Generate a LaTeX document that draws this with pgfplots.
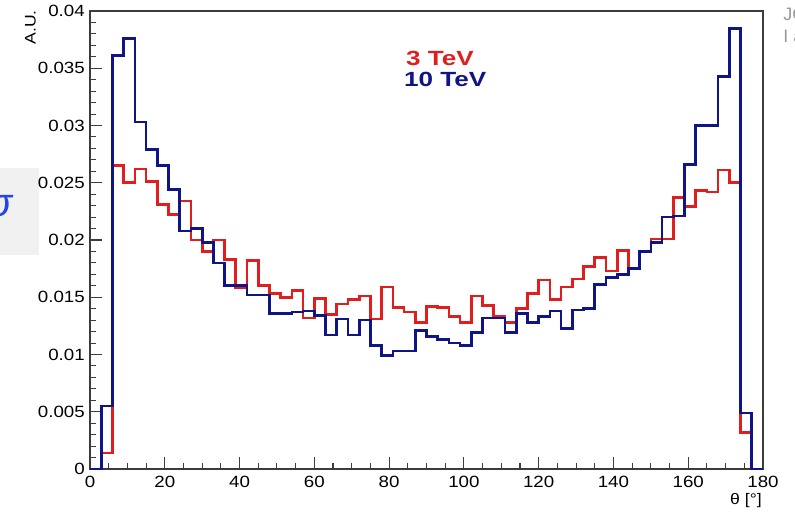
\documentclass[border=0pt]{standalone}
\usepackage{pgfplots}
\pgfplotsset{compat=1.18}
\usepackage{fontspec}
\setmainfont{Liberation Sans}
\newfontfamily\tickfont[FakeStretch=1.15]{Liberation Sans}
\newfontfamily\legfont[FakeStretch=1.27]{Liberation Sans}
\definecolor{histred}{RGB}{225,30,30}
\definecolor{histblue}{RGB}{15,20,135}
\definecolor{framegray}{RGB}{60,60,60}
\definecolor{slideblue}{RGB}{35,70,235}
\definecolor{slidegray}{RGB}{241,241,241}

\begin{document}
\begin{tikzpicture}
\path[use as bounding box] (0,0) rectangle (596.25pt,-389.25pt);
% remnants of the surrounding slide
\fill[slidegray] (0,-126pt) rectangle (29.25pt,-191.25pt);
\node[anchor=base east, inner sep=0pt, text=slideblue,
      font=\fontsize{30pt}{32pt}\selectfont\itshape] at (9.5pt,-162pt) {σ};
\node[anchor=base west, inner sep=0pt, text=black!40,
      font=\fontsize{13.5pt}{15pt}\selectfont] at (587.25pt,-15pt) {JC};
\node[anchor=base west, inner sep=0pt, text=black!40,
      font=\fontsize{13.5pt}{15pt}\selectfont] at (587.25pt,-31.5pt) {I a};

\begin{axis}[
  at={(67.5pt,-351.75pt)}, anchor=south west,
  width=504.75pt, height=343.5pt, scale only axis,
  xmin=0, xmax=180, ymin=0, ymax=0.04,
  clip=false,
  axis line style={framegray, line width=0.8pt},
  tick style={framegray, line width=0.8pt},
  tick align=inside, tick pos=left,
  major tick length=9pt, minor tick length=4.5pt,
  xtick={0,20,40,60,80,100,120,140,160,180},
  minor x tick num=3,
  ytick={0,0.005,0.01,0.015,0.02,0.025,0.03,0.035,0.04},
  yticklabels={0,0.005,0.01,0.015,0.02,0.025,0.03,0.035,0.04},
  minor y tick num=4,
  /pgf/number format/assume math mode=true,
  xticklabel style={font=\tickfont\fontsize{12.2pt}{14pt}\selectfont,
                    anchor=north, inner sep=0pt, yshift=-5.25pt},
  yticklabel style={font=\tickfont\fontsize{12.2pt}{14pt}\selectfont,
                    anchor=east, inner sep=0pt, xshift=-3.75pt},
  xlabel={θ [°]},
  ylabel={A.U.},
  every axis x label/.style={at={(axis description cs:0.9985,-0.0524)},
                             anchor=north east, inner sep=0pt,
                             font=\tickfont\fontsize{11.5pt}{13pt}\selectfont},
  every axis y label/.style={at={(axis description cs:-0.0884,1.002)},
                             rotate=90, anchor=east, inner sep=0pt,
                             font=\tickfont\fontsize{11.5pt}{13pt}\selectfont},
]
% 3 TeV, 3 degree bins (left edges)
\addplot[const plot, histred, line width=2pt, line join=miter] coordinates {
(0,0) (3,0.0014) (6,0.0265) (9,0.0250) (12,0.0262) (15,0.0251) (18,0.0231)
(21,0.0222) (24,0.0234) (27,0.0200) (30,0.0190) (33,0.0200) (36,0.0183)
(39,0.0158) (42,0.0182) (45,0.0160) (48,0.0153) (51,0.0150) (54,0.0156)
(57,0.0132) (60,0.0149) (63,0.0135) (66,0.0144) (69,0.0148) (72,0.0151)
(75,0.0131) (78,0.0159) (81,0.0141) (84,0.0137) (87,0.0128) (90,0.0142)
(93,0.0141) (96,0.0133) (99,0.0128) (102,0.0151) (105,0.0143) (108,0.0133)
(111,0.0128) (114,0.0140) (117,0.0153) (120,0.0165) (123,0.0148) (126,0.0159)
(129,0.0166) (132,0.0177) (135,0.0185) (138,0.0173) (141,0.0191) (144,0.0175)
(147,0.0190) (150,0.0201) (153,0.0201) (156,0.0237) (159,0.0229) (162,0.0243)
(165,0.0242) (168,0.0261) (171,0.0250) (174,0.0032) (177,0) (180,0)
};
% 10 TeV
\addplot[const plot, histblue, line width=2pt, line join=miter] coordinates {
(0,0) (3,0.0055) (6,0.0361) (9,0.0376) (12,0.0303) (15,0.0279) (18,0.0265)
(21,0.0244) (24,0.0208) (27,0.0210) (30,0.0198) (33,0.0180) (36,0.0160)
(39,0.0160) (42,0.0152) (45,0.0152) (48,0.0136) (51,0.0136) (54,0.0137)
(57,0.0138) (60,0.0134) (63,0.0117) (66,0.0131) (69,0.0117) (72,0.0130)
(75,0.0108) (78,0.0099) (81,0.0103) (84,0.0103) (87,0.0121) (90,0.0116)
(93,0.0113) (96,0.0110) (99,0.0108) (102,0.0119) (105,0.0132) (108,0.0132)
(111,0.0119) (114,0.0136) (117,0.0128) (120,0.0133) (123,0.0138) (126,0.0123)
(129,0.0139) (132,0.0140) (135,0.0161) (138,0.0167) (141,0.0170) (144,0.0175)
(147,0.0190) (150,0.0198) (153,0.0220) (156,0.0221) (159,0.0266) (162,0.0300)
(165,0.0300) (168,0.0343) (171,0.0385) (174,0.0049) (177,0) (180,0)
};
\node[anchor=base west, inner sep=0pt, text=histred,
      font=\legfont\bfseries\fontsize{15.4pt}{18pt}\selectfont]
      at (axis description cs:0.4695,0.8821) {3 TeV};
\node[anchor=base west, inner sep=0pt, text=histblue,
      font=\legfont\bfseries\fontsize{15.4pt}{18pt}\selectfont]
      at (axis description cs:0.4665,0.8347) {10 TeV};
\end{axis}
\end{tikzpicture}
\end{document}
